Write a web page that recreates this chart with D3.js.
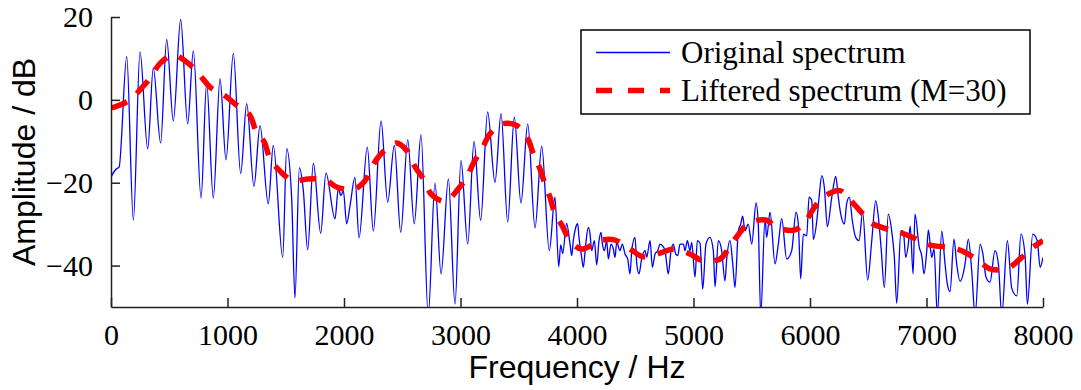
<!DOCTYPE html>
<html>
<head>
<meta charset="utf-8">
<script src="https://cdn.jsdelivr.net/npm/d3@7/dist/d3.min.js"></script>
<style>
  body { margin: 0; background: #fff; }
  .tick text { font-family: "Liberation Serif", "Times New Roman", serif; font-size: 30px; fill: #000; }
  .axis-title { font-family: "Liberation Sans", Arial, sans-serif; font-size: 32px; fill: #000; }
  .legend-text { font-family: "Liberation Serif", "Times New Roman", serif; font-size: 31px; fill: #000; }
</style>
</head>
<body>
<div id="chart"></div>
<script>
// original spectrum (Hz, dB)
var origFreq = [0, 49, 69, 135, 192, 249, 315, 363, 426, 478, 535, 598, 658, 707, 773, 821, 878, 936, 987, 1050,
  1113, 1165, 1227, 1279, 1350, 1393, 1474, 1508, 1551, 1579, 1617, 1651, 1688, 1737, 1800, 1845, 1923, 1951, 1974, 1994,
  2023, 2052, 2094, 2129, 2200, 2252, 2318, 2375, 2432, 2487, 2547, 2603, 2661, 2723, 2781, 2833, 2896, 2953, 3004, 3062,
  3116, 3173, 3233, 3296, 3348, 3405, 3462, 3519, 3577, 3640, 3697, 3762, 3811, 3843, 3860, 3877, 3911, 3940, 3955, 3968,
  3989, 4006, 4017, 4040, 4054, 4075, 4097, 4112, 4126, 4149, 4169, 4189, 4206, 4218, 4235, 4255, 4269, 4292, 4312, 4326,
  4341, 4369, 4389, 4412, 4435, 4455, 4470, 4498, 4513, 4532, 4555, 4584, 4598, 4627, 4647, 4670, 4693, 4713, 4733, 4756,
  4770, 4784, 4807, 4827, 4847, 4865, 4884, 4913, 4927, 4947, 4970, 4985, 5013, 5033, 5056, 5079, 5107, 5141, 5170, 5185,
  5213, 5242, 5270, 5285, 5313, 5337, 5356, 5385, 5405, 5422, 5442, 5470, 5500, 5537, 5556, 5577, 5614, 5628, 5657, 5700,
  5728, 5757, 5800, 5843, 5880, 5900, 5920, 5943, 5972, 5992, 6015, 6029, 6058, 6078, 6101, 6123, 6149, 6187, 6221, 6243,
  6264, 6295, 6315, 6338, 6364, 6392, 6421, 6452, 6495, 6530, 6564, 6587, 6610, 6638, 6672, 6701, 6724, 6744, 6781, 6801,
  6822, 6844, 6860, 6885, 6901, 6938, 6959, 6979, 7002, 7016, 7045, 7065, 7093, 7131, 7159, 7179, 7202, 7236, 7259, 7288,
  7331, 7359, 7388, 7417, 7460, 7483, 7511, 7545, 7588, 7617, 7646, 7694, 7732, 7775, 7811, 7846, 7866, 7912, 7951, 7975, 8000];
var origAmp = [-18.6, -16.6, -16.3, 10.4, -29.0, 11.6, -11.8, 7.7, -10.4, 14.6, -5.1, 19.4, -5.8, 11.8, -23.7, 4.1, -23.7, 5.1, -14.5, 11.2,
  -17.8, -0.9, -20.9, -6.2, -25.1, -11.0, -38.0, -11.8, -23.9, -47.8, -16.4, -21.9, -36.2, -15.3, -32.2, -17.7, -28.7, -21.5, -23.1, -21.9,
  -29.9, -25.5, -18.7, -33.3, -11.4, -31.7, -5.1, -24.7, -11.0, -32.0, -9.6, -29.9, -8.4, -52, -20.1, -42.0, -19.1, -49.3, -14.6, -34.8,
  -10.0, -29.1, -2.9, -19.9, -3.3, -29.5, -4.2, -24.9, -5.8, -30.9, -11.2, -36.4, -23.5, -40.3, -35.0, -37.1, -29.8, -34.8, -37.6, -34.0,
  -30.8, -29.9, -33.2, -38.0, -40.4, -34.8, -30.8, -32.4, -36.4, -34.0, -39.8, -34.0, -32.0, -34.8, -36.4, -34.0, -38.4, -34.8, -36.0, -38.0,
  -34.4, -36.4, -34.8, -37.2, -38.4, -42.0, -36.4, -33.2, -39.6, -42.0, -38.4, -36.4, -38.0, -34.0, -40.4, -37.2, -36.4, -34.8, -35.2, -36.4,
  -39.6, -42.0, -36.4, -34.8, -37.2, -37.6, -34.8, -34.8, -36.4, -34.0, -36.4, -34.4, -42.8, -34.0, -34.6, -45.7, -34.8, -33.2, -36.4, -45.1,
  -34.0, -36.4, -43.7, -38.4, -34.0, -39.6, -45.3, -31.6, -30.0, -28.1, -31.6, -30.0, -34.8, -24.9, -30.0, -52, -28.6, -33.2, -27.1, -39.6,
  -34.8, -28.7, -38.4, -36.4, -27.1, -30.0, -43.2, -32.4, -32.8, -23.5, -24.3, -33.7, -29.3, -23.5, -18.3, -21.1, -30.6, -23.5, -18.5, -23.5,
  -27.6, -30.0, -25.0, -23.5, -29.3, -33.2, -34.0, -27.1, -43.5, -34.0, -24.3, -28.3, -35.6, -45.3, -27.6, -31.6, -38.0, -49.1, -31.6, -31.8,
  -38.0, -34.8, -30.5, -42.0, -27.6, -35.6, -37.6, -42.0, -36.4, -31.4, -38.0, -36.0, -52, -31.7, -39.6, -44.5, -46.3, -33.6, -39.6, -43.8,
  -39.6, -33.6, -41.2, -52, -34.8, -37.0, -42.8, -44.0, -36.4, -39.6, -52, -34.0, -45.5, -47.3, -32.4, -37.6, -49.3, -32.4, -34.0, -40.4, -38.0];

// liftered spectrum (M=30)
var liftFreq = [0, 34, 163, 258, 343, 421, 535, 664, 764, 858, 973, 1079, 1187, 1245, 1316, 1365, 1451, 1565, 1685, 1837,
  1943, 2089, 2180, 2252, 2323, 2452, 2538, 2610, 2681, 2753, 2867, 2981, 3053, 3116, 3182, 3253, 3354, 3482, 3574, 3625,
  3676, 3725, 3768, 3811, 3877, 3940, 4040, 4197, 4320, 4455, 4569, 4713, 4827, 4970, 5070, 5228, 5307, 5399, 5470, 5622,
  5714, 5871, 5957, 6029, 6114, 6257, 6343, 6458, 6530, 6687, 6793, 6945, 7053, 7202, 7316, 7445, 7545, 7689, 7803, 7903, 8000];
var liftAmp = [-1.9, -1.7, 0.0, 2.7, 5.5, 8.8, 10.8, 8.8, 5.9, 2.9, 1.1, -1.3, -3.5, -7.5, -10.2, -14.2, -17.2, -19.6, -19.1, -19.3,
  -21.1, -21.5, -19.5, -15.6, -12.9, -10.4, -12.2, -16.2, -19.1, -22.9, -24.5, -21.5, -18.7, -15.0, -12.0, -8.2, -5.8, -6.2, -9.2, -13.0,
  -16.2, -20.3, -23.5, -27.5, -30.6, -34.0, -36.0, -34.0, -33.8, -36.0, -37.9, -37.0, -36.0, -37.2, -38.7, -38.4, -35.6, -32.0, -29.8, -29.0,
  -30.8, -31.4, -29.5, -26.3, -23.5, -21.9, -24.1, -27.7, -29.8, -31.4, -32.2, -34.0, -35.2, -35.6, -36.6, -38.8, -40.8, -40.8, -38.4, -35.8, -34.0];

var xTicks = [0, 1000, 2000, 3000, 4000, 5000, 6000, 7000, 8000];
var yTicks = [-40, -20, 0, 20];
var seriesNames = ["Original spectrum", "Liftered spectrum (M=30)"];

var width = 1081, height = 390;
var margin = { top: 17, right: 38, bottom: 83, left: 111 };
var graphWidth = width - margin.left - margin.right,
  graphHeight = height - margin.top - margin.bottom;

var svg = d3.select("#chart").append("svg").attr("width", width).attr("height", height);
var graph = svg.append("g").attr("transform", "translate(" + margin.left + "," + margin.top + ")");

var x = d3.scaleLinear().domain([0, 8000]).range([0, graphWidth]);
var y = d3.scaleLinear().domain([-50, 20]).range([graphHeight, 0]);

graph.append("clipPath").attr("id", "plotclip")
  .append("rect").attr("width", graphWidth).attr("height", graphHeight);

var orig = origFreq.map(function (f, i) { return { f: f, v: origAmp[i] }; });
var lift = liftFreq.map(function (f, i) { return { f: f, v: liftAmp[i] }; });

var lineOrig = d3.line()
  .x(function (d) { return x(d.f); })
  .y(function (d) { return y(d.v); })
  .curve(d3.curveMonotoneX);
var lineLift = d3.line()
  .x(function (d) { return x(d.f); })
  .y(function (d) { return y(d.v); })
  .curve(d3.curveCatmullRom.alpha(0.5));

var plot = graph.append("g").attr("clip-path", "url(#plotclip)");
plot.append("path").datum(orig)
  .attr("d", lineOrig)
  .attr("fill", "none")
  .attr("stroke", "#0000ff")
  .attr("stroke-width", 1.3);
plot.append("path").datum(lift)
  .attr("d", lineLift)
  .attr("fill", "none")
  .attr("stroke", "#ff0000")
  .attr("stroke-width", 5.5)
  .attr("stroke-dasharray", "17,13");

// axes, ticks point inward
var gXAxis = graph.append("g").attr("transform", "translate(0," + graphHeight + ")");
gXAxis.call(d3.axisBottom(x).tickValues(xTicks).tickFormat(d3.format("d")).tickSizeInner(-9).tickSizeOuter(0).tickPadding(17));
var gYAxis = graph.append("g");
gYAxis.call(d3.axisLeft(y).tickValues(yTicks).tickSizeInner(-9).tickSizeOuter(0).tickPadding(18));
graph.selectAll(".domain, .tick line").attr("stroke", "#222").attr("stroke-width", 1.5);
gXAxis.selectAll(".tick text").attr("dy", "0.71em");

svg.append("text")
  .attr("class", "axis-title")
  .attr("x", margin.left + graphWidth / 2)
  .attr("y", 378)
  .attr("text-anchor", "middle")
  .text("Frequency / Hz");
svg.append("text")
  .attr("class", "axis-title")
  .attr("transform", "translate(35," + (margin.top + graphHeight / 2) + ") rotate(-90)")
  .attr("text-anchor", "middle")
  .text("Amplitude / dB");

// legend
var legend = svg.append("g").attr("transform", "translate(581,30)");
legend.append("rect")
  .attr("width", 449).attr("height", 84)
  .attr("fill", "#fff").attr("stroke", "#000").attr("stroke-width", 1.5);
legend.append("line")
  .attr("x1", 15).attr("x2", 89).attr("y1", 22.5).attr("y2", 22.5)
  .attr("stroke", "#0000ff").attr("stroke-width", 1.3);
legend.append("line")
  .attr("x1", 15).attr("x2", 89).attr("y1", 60.5).attr("y2", 60.5)
  .attr("stroke", "#ff0000").attr("stroke-width", 5.5).attr("stroke-dasharray", "16,16");
legend.selectAll("text.legend-text").data(seriesNames).enter()
  .append("text")
  .attr("class", "legend-text")
  .attr("x", 100)
  .attr("y", function (d, i) { return 33 + i * 38; })
  .text(function (d) { return d; });
</script>
</body>
</html>
